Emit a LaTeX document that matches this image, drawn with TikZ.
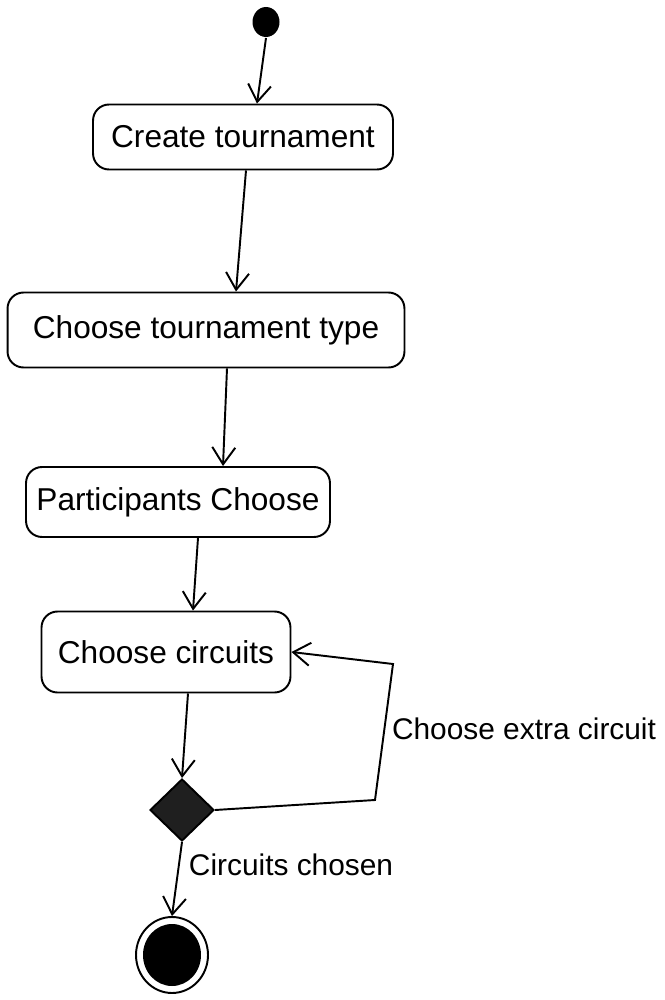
\documentclass[tikz,border=0pt]{standalone}
\usepackage{fontspec}
\setmainfont{Liberation Sans}
\usetikzlibrary{arrows.meta,shapes.geometric}
\begin{document}
\begin{tikzpicture}[x=0.02cm,y=-0.02cm,
  every path/.style={line width=1.1pt},
  activity/.style={draw,rounded corners=0.32cm,inner sep=0pt,font=\fontsize{18}{21}\selectfont},
  arr/.style={-{Straight Barb[length=0.34cm,width=0.46cm,line width=1.1pt]}},
  lbl/.style={font=\fontsize{17}{20}\selectfont,inner sep=0pt}]
\useasboundingbox (0,0) rectangle (665,1000);
\fill[white] (0,0) rectangle (665,1000);
% initial node
\node[ellipse,fill=black,minimum width=0.54cm,minimum height=0.6cm,inner sep=0pt] (start) at (266,22) {};
% activities
\node[activity,minimum width=6cm,minimum height=1.3cm] (box1) at (243,137) {Create tournament};
\node[activity,minimum width=7.94cm,minimum height=1.5cm] (box2) at (206,330) {Choose tournament type};
\node[activity,minimum width=6.08cm,minimum height=1.4cm] (box3) at (178,502) {Participants Choose};
\node[activity,minimum width=4.98cm,minimum height=1.62cm] (box4) at (166,652) {Choose circuits};
% decision
\node[diamond,draw,fill=black!88,minimum width=1.28cm,minimum height=1.24cm,inner sep=0pt] (dec) at (182,810) {};
% final node
\node[ellipse,draw,minimum width=1.44cm,minimum height=1.52cm,inner sep=0pt] (end) at (172,955) {};
\fill[black] (end.center) ellipse [x radius=0.58cm,y radius=0.62cm];
% loop corners
\coordinate (c1) at (375,800);
\coordinate (c2) at (393,664);
% connectors
\draw[arr] (start.south) -- ([xshift=0.28cm]box1.north);
\draw[arr] ([xshift=0.06cm]box1.south) -- ([xshift=0.6cm]box2.north);
\draw[arr] ([xshift=0.42cm]box2.south) -- ([xshift=0.9cm]box3.north);
\draw[arr] ([xshift=0.4cm]box3.south) -- ([xshift=0.54cm]box4.north);
\draw[arr] ([xshift=0.44cm]box4.south) -- (dec.north);
\draw[arr] (dec.east) -- (c1) -- (c2) -- (box4.east);
\draw[arr] (dec.south) -- (end.north);
% guard labels
\node[lbl] (l1) at (524,729) {Choose extra circuit};
\node[lbl,anchor=west] (l2) at (188,865) {Circuits chosen};
\end{tikzpicture}
\end{document}
